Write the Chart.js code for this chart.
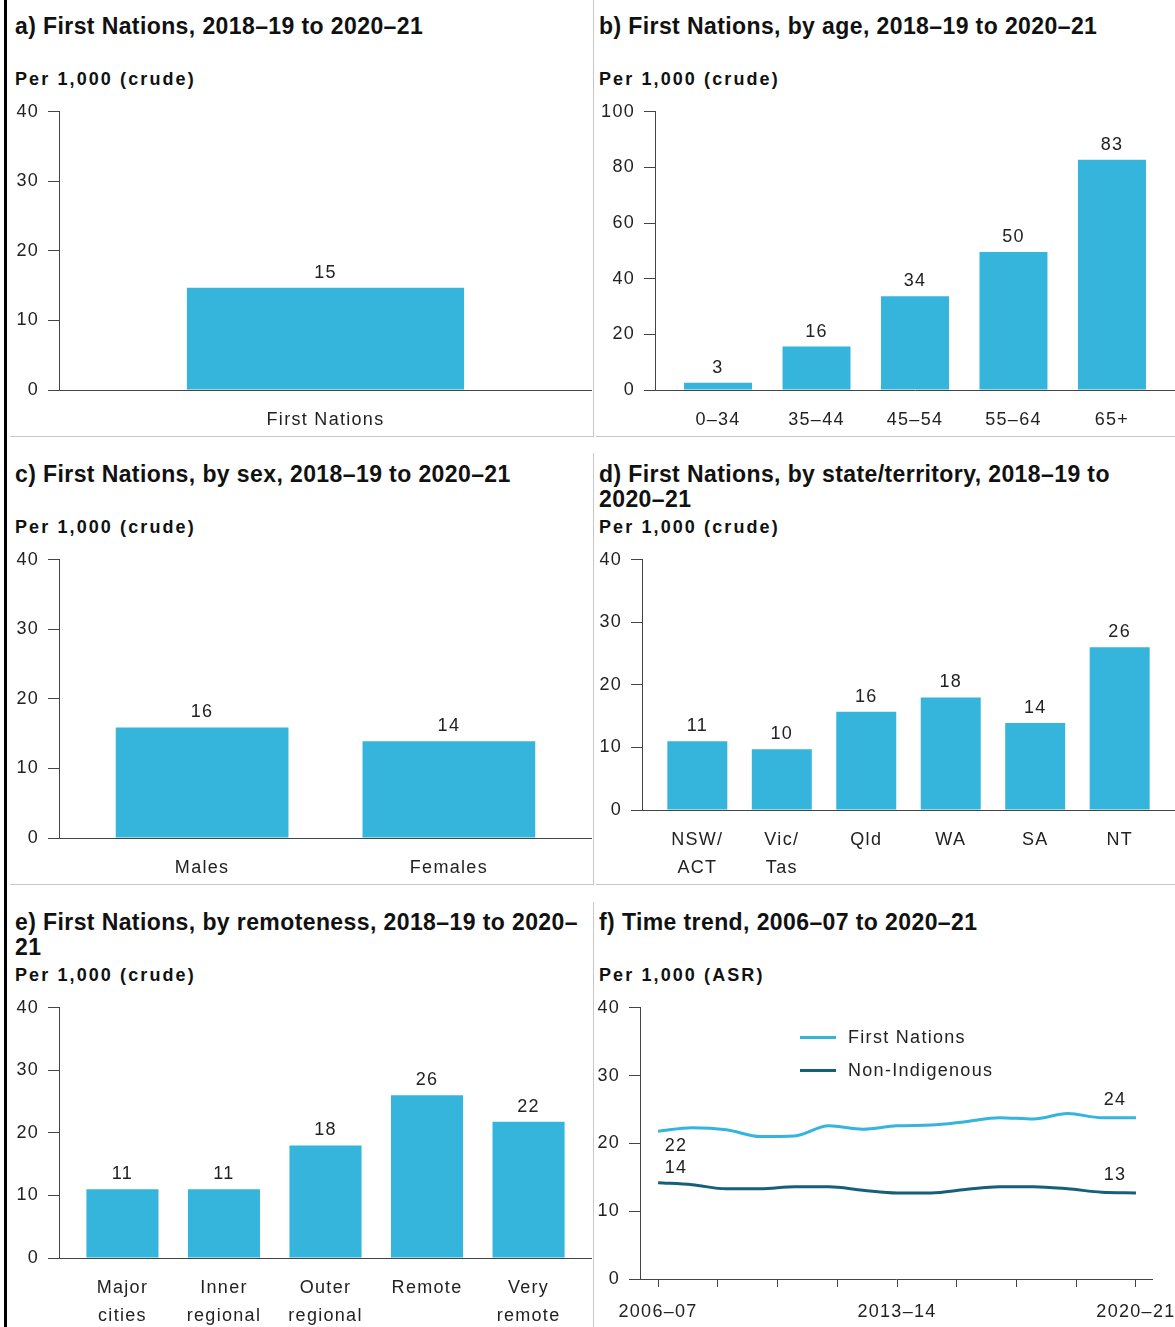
<!DOCTYPE html>
<html>
<head>
<meta charset="utf-8">
<script src="https://cdn.jsdelivr.net/npm/chart.js@4.4.0/dist/chart.umd.min.js"></script>
<style>
  body { margin: 0; background: #fff; }
  #page { position: relative; width: 1175px; height: 1327px; overflow: hidden; font-family: "Liberation Sans", Arial, sans-serif; color: #222; }
  .abs { position: absolute; }
  .title { position: absolute; font-weight: bold; font-size: 23px; line-height: 25px; letter-spacing: 0.4px; white-space: nowrap; color: #111; }
  .unit { position: absolute; font-weight: bold; font-size: 18px; line-height: 20px; letter-spacing: 2.1px; white-space: nowrap; color: #111; }
  .sep { position: absolute; background: #c8c8c8; }
  .leg { position: absolute; font-size: 18px; line-height: 22px; letter-spacing: 1.3px; white-space: nowrap; }
  canvas { position: absolute; }
</style>
</head>
<body>
<div id="page">
  <div class="abs" style="left:4px;top:0;width:3px;height:1327px;background:#000"></div>

  <!-- panel separators -->
  <div class="sep" style="left:593px;top:0;width:1px;height:436px"></div>
  <div class="sep" style="left:10px;top:436px;width:584px;height:1px"></div>
  <div class="sep" style="left:596px;top:436px;width:579px;height:1px"></div>
  <div class="sep" style="left:593px;top:453px;width:1px;height:431px"></div>
  <div class="sep" style="left:10px;top:884px;width:584px;height:1px"></div>
  <div class="sep" style="left:596px;top:884px;width:579px;height:1px"></div>
  <div class="sep" style="left:593px;top:902px;width:1px;height:425px"></div>

  <div class="title" style="left:15px;top:14px">a) First Nations, 2018–19 to 2020–21</div>
  <div class="unit" style="left:15px;top:69px">Per 1,000 (crude)</div>
  <canvas id="chartA" width="582" height="344" style="left:10px;top:92px"></canvas>

  <div class="title" style="left:599px;top:14px">b) First Nations, by age, 2018–19 to 2020–21</div>
  <div class="unit" style="left:599px;top:69px">Per 1,000 (crude)</div>
  <canvas id="chartB" width="579" height="344" style="left:596px;top:92px"></canvas>

  <div class="title" style="left:15px;top:462px">c) First Nations, by sex, 2018–19 to 2020–21</div>
  <div class="unit" style="left:15px;top:517px">Per 1,000 (crude)</div>
  <canvas id="chartC" width="582" height="344" style="left:10px;top:540px"></canvas>

  <div class="title" style="left:599px;top:462px">d) First Nations, by state/territory, 2018–19 to<br>2020–21</div>
  <div class="unit" style="left:599px;top:517px">Per 1,000 (crude)</div>
  <canvas id="chartD" width="579" height="344" style="left:596px;top:540px"></canvas>

  <div class="title" style="left:15px;top:910px">e) First Nations, by remoteness, 2018–19 to 2020–<br>21</div>
  <div class="unit" style="left:15px;top:965px">Per 1,000 (crude)</div>
  <canvas id="chartE" width="582" height="339" style="left:10px;top:988px"></canvas>

  <div class="title" style="left:599px;top:910px">f) Time trend, 2006–07 to 2020–21</div>
  <div class="unit" style="left:599px;top:965px">Per 1,000 (ASR)</div>
  <canvas id="chartF" width="579" height="339" style="left:596px;top:988px"></canvas>

  <div class="abs" style="left:800px;top:1036px;width:36px;height:3px;background:#35b4dc"></div>
  <div class="leg" style="left:848px;top:1026px">First Nations</div>
  <div class="abs" style="left:800px;top:1069px;width:36px;height:3px;background:#155f78"></div>
  <div class="leg" style="left:848px;top:1059px">Non-Indigenous</div>
</div>

<script>
// ── Data ──
const allLabels = ['First Nations'];
const allValues = [14.7];

const ageLabels = ['0–34', '35–44', '45–54', '55–64', '65+'];
const ageValues = [2.6, 15.6, 33.7, 49.6, 82.8];

const sexLabels = ['Males', 'Females'];
const sexValues = [15.9, 13.9];

const stateLabels = [['NSW/', 'ACT'], ['Vic/', 'Tas'], 'Qld', 'WA', 'SA', 'NT'];
const stateValues = [11.0, 9.7, 15.7, 18.0, 13.9, 26.0];

const remoteLabels = [['Major', 'cities'], ['Inner', 'regional'], ['Outer', 'regional'], 'Remote', ['Very', 'remote']];
const remoteValues = [11.0, 11.0, 18.0, 26.0, 21.8];

const trendYears = ['2006–07', '2007–08', '2008–09', '2009–10', '2010–11', '2011–12', '2012–13',
  '2013–14', '2014–15', '2015–16', '2016–17', '2017–18', '2018–19', '2019–20', '2020–21'];
const firstNationsTrend = [21.8, 22.3, 22.0, 21.0, 21.1, 22.6, 22.1, 22.6, 22.7, 23.2, 23.8, 23.6, 24.4, 23.8, 23.8];
const nonIndigenousTrend = [14.2, 13.9, 13.3, 13.3, 13.6, 13.6, 13.1, 12.7, 12.7, 13.2, 13.6, 13.6, 13.3, 12.8, 12.7];
const trendLabelYears = ['2006–07', '2013–14', '2020–21'];

const BAR_BLUE = '#35b4dc';
const LINE_DARK = '#155f78';
const AXIS = '#444';
const TEXT = '#222';
const FONT = '"Liberation Sans", Arial, sans-serif';

Chart.defaults.font.family = FONT;
Chart.defaults.font.size = 18;
Chart.defaults.color = TEXT;

// the source chart's text is loosely spaced
Chart.register({
  id: 'looseText',
  beforeDraw(chart) { chart.ctx.letterSpacing = '1.3px'; }
});

// value above each bar
const barValueLabels = {
  id: 'barValueLabels',
  afterDatasetsDraw(chart) {
    const ctx = chart.ctx;
    const vals = chart.data.datasets[0].data;
    ctx.save();
    ctx.font = '18px ' + FONT;
    ctx.fillStyle = TEXT;
    ctx.textAlign = 'center';
    ctx.textBaseline = 'alphabetic';
    chart.getDatasetMeta(0).data.forEach((bar, i) => {
      const v = typeof vals[i] === 'object' ? vals[i].y : vals[i];
      ctx.fillText(String(Math.round(v)), bar.x, bar.y - 10);
    });
    ctx.restore();
  }
};

// x axes: no automatic side padding for overflowing labels
const noSidePad = s => { s.paddingLeft = 0; s.paddingRight = 0; };

function yAxis(max, step, width) {
  return {
    min: 0, max: max,
    ticks: { stepSize: step, padding: 9, color: TEXT },
    grid: { drawOnChartArea: false, drawTicks: true, tickLength: 11, color: AXIS },
    border: { display: true, color: AXIS },
    afterFit: s => { s.width = width; }
  };
}

// bars on a linear x so the outer gaps match the source
function barChart(id, labels, values, o) {
  const n = labels.length;
  const xScale = n === 1 ? { type: 'category' } : {
    type: 'linear',
    offset: false,
    min: -o.pad, max: n - 1 + o.pad,
    afterBuildTicks: s => { s.ticks = labels.map((_, i) => ({ value: i })); },
  };
  Object.assign(xScale, {
    grid: { display: false },
    border: { display: true, color: AXIS },
    ticks: { padding: 8, color: TEXT, maxRotation: 0, autoSkip: false, font: { lineHeight: 1.55 } },
    afterFit: s => { s.height = o.xh; noSidePad(s); }
  });
  if (n > 1) xScale.ticks.callback = v => labels[v];
  return new Chart(document.getElementById(id), {
    type: 'bar',
    data: {
      labels: n === 1 ? labels : undefined,
      datasets: [{
        data: n === 1 ? values : values.map((v, i) => ({ x: i, y: v })),
        backgroundColor: BAR_BLUE,
        borderWidth: 0,
        barPercentage: 1,
        categoryPercentage: o.cat,
      }]
    },
    options: {
      responsive: false,
      animation: false,
      layout: { padding: { top: 12, right: 0, left: 0, bottom: 0 } },
      plugins: { legend: { display: false }, tooltip: { enabled: false } },
      scales: { x: xScale, y: yAxis(o.max, o.step, o.yw) }
    },
    plugins: [barValueLabels]
  });
}

barChart('chartA', allLabels, allValues, { cat: 0.52, max: 40, step: 10, yw: 49, xh: 46 });
barChart('chartB', ageLabels, ageValues, { pad: 0.64, cat: 0.69, max: 100, step: 20, yw: 59, xh: 46 });
barChart('chartC', sexLabels, sexValues, { pad: 0.58, cat: 0.70, max: 40, step: 10, yw: 49, xh: 46 });
barChart('chartD', stateLabels, stateValues, { pad: 0.655, cat: 0.71, max: 40, step: 10, yw: 46, xh: 74 });
barChart('chartE', remoteLabels, remoteValues, { pad: 0.625, cat: 0.71, max: 40, step: 10, yw: 49, xh: 69 });

// end-point labels on the trend lines
const trendEndLabels = {
  id: 'trendEndLabels',
  afterDatasetsDraw(chart) {
    const ctx = chart.ctx;
    const spots = [
      { ds: 0, i: 0, dx: 18, dy: 15 },
      { ds: 1, i: 0, dx: 18, dy: -15 },
      { ds: 0, i: 14, dx: -21, dy: -18 },
      { ds: 1, i: 14, dx: -21, dy: -18 },
    ];
    ctx.save();
    ctx.font = '18px ' + FONT;
    ctx.fillStyle = TEXT;
    ctx.textAlign = 'center';
    ctx.textBaseline = 'middle';
    spots.forEach(s => {
      const pt = chart.getDatasetMeta(s.ds).data[s.i];
      const v = chart.data.datasets[s.ds].data[s.i].y;
      ctx.fillText(String(Math.round(v)), pt.x + s.dx, pt.y + s.dy);
    });
    ctx.restore();
  }
};

new Chart(document.getElementById('chartF'), {
  type: 'line',
  data: {
    datasets: [
      {
        label: 'First Nations',
        data: firstNationsTrend.map((v, i) => ({ x: i, y: v })),
        borderColor: BAR_BLUE,
        borderWidth: 3,
        pointRadius: 0,
        cubicInterpolationMode: 'monotone',
      },
      {
        label: 'Non-Indigenous',
        data: nonIndigenousTrend.map((v, i) => ({ x: i, y: v })),
        borderColor: LINE_DARK,
        borderWidth: 3,
        pointRadius: 0,
        cubicInterpolationMode: 'monotone',
      }
    ]
  },
  options: {
    responsive: false,
    animation: false,
    layout: { padding: { top: 12, right: 23, left: 0, bottom: 0 } },
    plugins: { legend: { display: false }, tooltip: { enabled: false } },
    scales: {
      x: {
        type: 'linear',
        offset: false,
        min: -0.53, max: 14.47,
        grid: { drawOnChartArea: false, drawTicks: true, tickLength: 8, color: AXIS },
        border: { display: true, color: AXIS },
        afterBuildTicks: s => { s.ticks = [0, 1, 2, 3, 4, 5, 6, 7, 8].map(k => ({ value: k * 14 / 8 })); },
        ticks: {
          padding: 14, color: TEXT, maxRotation: 0, autoSkip: false,
          callback: v => {
            const y = trendYears[v];
            return trendLabelYears.includes(y) ? y : '';
          }
        },
        afterFit: s => { s.height = 48; noSidePad(s); }
      },
      y: yAxis(40, 10, 44)
    }
  },
  plugins: [trendEndLabels]
});
</script>
</body>
</html>
